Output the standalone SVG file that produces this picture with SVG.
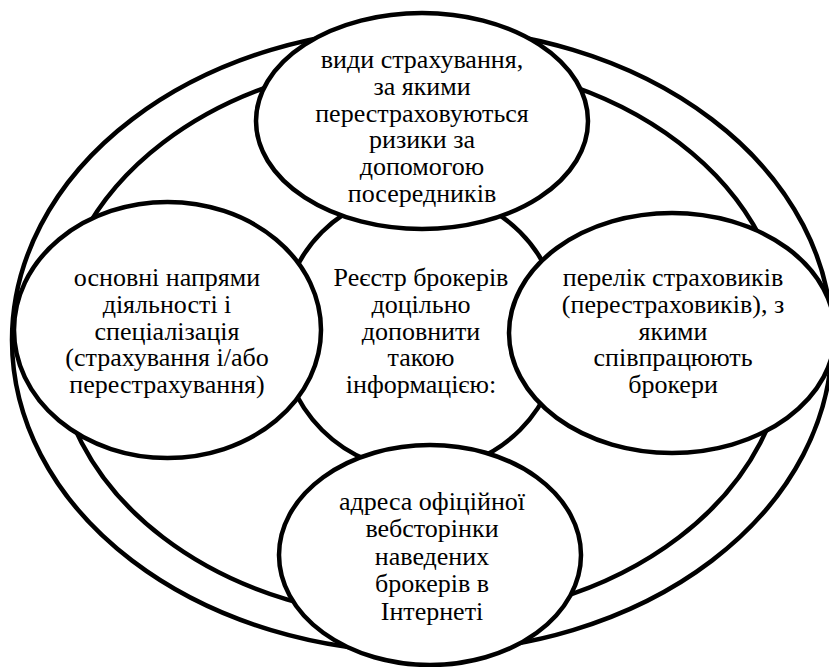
<svg xmlns="http://www.w3.org/2000/svg" width="829" height="667" viewBox="0 0 829 667">
<style>
.ring{fill:none;stroke:#000;stroke-width:4.5}
.node{fill:#fff;stroke:#000;stroke-width:4.5}
.t{font-family:"Liberation Serif","Times New Roman",serif;font-size:26px;fill:#000;text-anchor:middle}
</style>
<rect width="829" height="667" fill="#fff"/>
<g id="rings">
<ellipse class="ring" cx="422" cy="340" rx="410" ry="312"/>
<ellipse class="ring" cx="421" cy="340" rx="365" ry="279"/>
</g>
<g id="center">
<circle class="node" cx="421" cy="331" r="140"/>
<text class="t"><tspan x="421" y="286">Реєстр брокерів</tspan><tspan x="421" y="313">доцільно</tspan><tspan x="421" y="340">доповнити</tspan><tspan x="421" y="366">такою</tspan><tspan x="421" y="393">інформацією:</tspan></text>
</g>
<g id="top">
<ellipse class="node" cx="422" cy="121" rx="166" ry="108"/>
<text class="t"><tspan x="422" y="68">види страхування,</tspan><tspan x="422" y="95">за якими</tspan><tspan x="422" y="122">перестраховуються</tspan><tspan x="422" y="148">ризики за</tspan><tspan x="422" y="175">допомогою</tspan><tspan x="422" y="202">посередників</tspan></text>
</g>
<g id="left">
<ellipse class="node" cx="167.5" cy="330" rx="153.5" ry="128"/>
<text class="t"><tspan x="167" y="286">основні напрями</tspan><tspan x="167" y="313">діяльності і</tspan><tspan x="167" y="340">спеціалізація</tspan><tspan x="167" y="366">(страхування і/або</tspan><tspan x="167" y="393">перестрахування)</tspan></text>
</g>
<g id="right">
<ellipse class="node" cx="672" cy="333" rx="163" ry="120"/>
<text class="t"><tspan x="673" y="286">перелік страховиків</tspan><tspan x="673" y="313">(перестраховиків), з</tspan><tspan x="673" y="340">якими</tspan><tspan x="673" y="366">співпрацюють</tspan><tspan x="673" y="393">брокери</tspan></text>
</g>
<g id="bottom">
<ellipse class="node" cx="430" cy="555" rx="151" ry="110"/>
<text class="t"><tspan x="432" y="510">адреса офіційної</tspan><tspan x="432" y="537">вебсторінки</tspan><tspan x="432" y="565">наведених</tspan><tspan x="432" y="592">брокерів в</tspan><tspan x="432" y="620">Інтернеті</tspan></text>
</g>
</svg>
